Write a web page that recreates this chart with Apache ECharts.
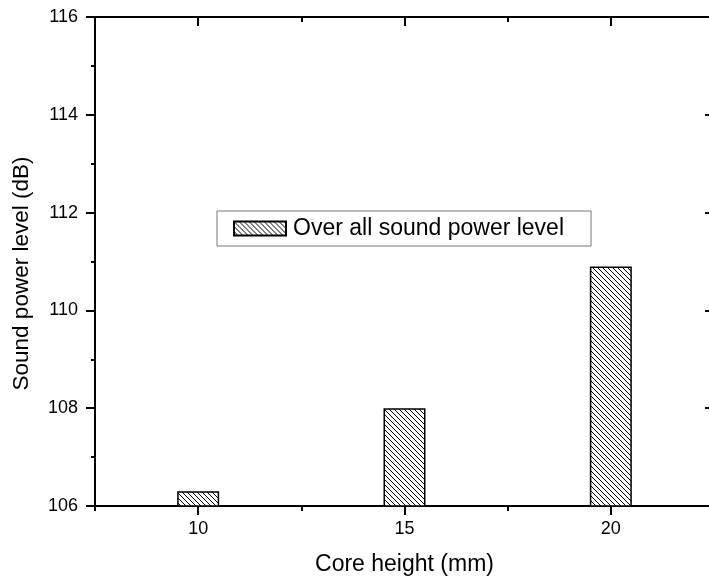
<!DOCTYPE html>
<html>
<head>
<meta charset="utf-8">
<script src="https://cdn.jsdelivr.net/npm/echarts@6/dist/echarts.min.js"></script>
<style>
  html, body { margin: 0; padding: 0; background: #fff; }
  #chart { width: 709px; height: 580px; }
</style>
</head>
<body>
<div id="chart"></div>
<script>
// Core height categories (mm) and the measured overall sound power level (dB)
const coreHeights = ['10', '15', '20'];
const soundPower = [106.3, 108.0, 110.9];
const seriesName = 'Over all sound power level';

const FONT = 'Liberation Sans, Arial, sans-serif';

// Back-slash hatching tile used as the bar fill
function hatchTile() {
  const c = document.createElement('canvas');
  c.width = 5; c.height = 5;
  const g = c.getContext('2d');
  g.fillStyle = '#fff';
  g.fillRect(0, 0, 5, 5);
  g.strokeStyle = '#000';
  g.lineWidth = 1;
  g.beginPath();
  g.moveTo(-1, -1); g.lineTo(6, 6);
  g.moveTo(-1, 4); g.lineTo(1, 6);
  g.moveTo(4, -1); g.lineTo(6, 1);
  g.stroke();
  return c;
}
const hatch = { image: hatchTile(), repeat: 'repeat' };

const axisLine = { show: true, lineStyle: { color: '#000', width: 2 } };
const noLine = { show: false };

const chart = echarts.init(document.getElementById('chart'), null, { renderer: 'canvas' });

chart.setOption({
  backgroundColor: '#fff',
  animation: false,
  textStyle: { fontFamily: FONT, color: '#000' },
  // the plot frame runs a few pixels past the right edge of the page
  grid: { left: 95, top: 17, width: 619, height: 489, containLabel: false, outerBoundsMode: 'none' },
  legend: {
    data: [seriesName],
    left: 217,
    top: 211,
    icon: 'rect',
    itemWidth: 52,
    itemHeight: 14,
    padding: [6, 27, 6, 16],
    backgroundColor: '#fff',
    borderColor: '#777',
    borderWidth: 1,
    borderRadius: 0,
    textStyle: { fontFamily: FONT, fontSize: 23, color: '#000', padding: [0, 0, 0, 2] },
    selectedMode: false
  },
  xAxis: [
    {
      // bottom axis: labels and major ticks at each category
      type: 'category', position: 'bottom', data: coreHeights,
      name: 'Core height (mm)', nameLocation: 'middle', nameGap: 47,
      nameTextStyle: { fontFamily: FONT, fontSize: 23, color: '#000' },
      axisLine: Object.assign({ onZero: false }, axisLine),
      axisTick: { show: true, alignWithLabel: true, length: 9, lineStyle: { color: '#000', width: 2 } },
      axisLabel: { fontFamily: FONT, fontSize: 18, color: '#000', margin: 14 },
      splitLine: { show: false }
    },
    {
      // bottom axis: short ticks between categories
      type: 'category', position: 'bottom', data: coreHeights,
      axisLine: Object.assign({ onZero: false }, noLine),
      axisTick: { show: true, alignWithLabel: false, length: 5, lineStyle: { color: '#000', width: 2 } },
      axisLabel: { show: false }, splitLine: { show: false }
    },
    {
      // top frame: inward major ticks
      type: 'category', position: 'top', data: coreHeights,
      axisLine: Object.assign({ onZero: false }, axisLine),
      axisTick: { show: true, inside: true, alignWithLabel: true, length: 9, lineStyle: { color: '#000', width: 2 } },
      axisLabel: { show: false }, splitLine: { show: false }
    },
    {
      // top frame: inward minor ticks
      type: 'category', position: 'top', data: coreHeights,
      axisLine: Object.assign({ onZero: false }, noLine),
      axisTick: { show: true, inside: true, alignWithLabel: false, length: 5, lineStyle: { color: '#000', width: 2 } },
      axisLabel: { show: false }, splitLine: { show: false }
    }
  ],
  yAxis: [
    {
      type: 'value', position: 'left', min: 106, max: 116, interval: 2,
      name: 'Sound power level (dB)', nameLocation: 'middle', nameGap: 62,
      nameTextStyle: { fontFamily: FONT, fontSize: 22.5, color: '#000', padding: [0, 24, 0, 0] },
      axisLine: Object.assign({ onZero: false }, axisLine),
      axisTick: { show: true, length: 9, lineStyle: { color: '#000', width: 2 } },
      minorTick: { show: true, splitNumber: 2, length: 4, lineStyle: { color: '#000', width: 2 } },
      axisLabel: { fontFamily: FONT, fontSize: 18, color: '#000', margin: 17 },
      splitLine: { show: false }, minorSplitLine: { show: false }
    },
    {
      type: 'value', position: 'right', min: 106, max: 116, interval: 2,
      axisLine: Object.assign({ onZero: false }, axisLine),
      axisTick: { show: true, inside: true, length: 9, lineStyle: { color: '#000', width: 2 } },
      minorTick: { show: true, splitNumber: 2, length: 4, lineStyle: { color: '#000', width: 2 } },
      axisLabel: { show: false },
      splitLine: { show: false }, minorSplitLine: { show: false }
    }
  ],
  series: [
    {
      name: seriesName,
      type: 'bar',
      xAxisIndex: 0,
      yAxisIndex: 0,
      data: soundPower,
      barWidth: 42,
      itemStyle: { color: hatch, borderColor: '#000', borderWidth: 1.5 },
      emphasis: { disabled: true }
    }
  ]
});
</script>
</body>
</html>
